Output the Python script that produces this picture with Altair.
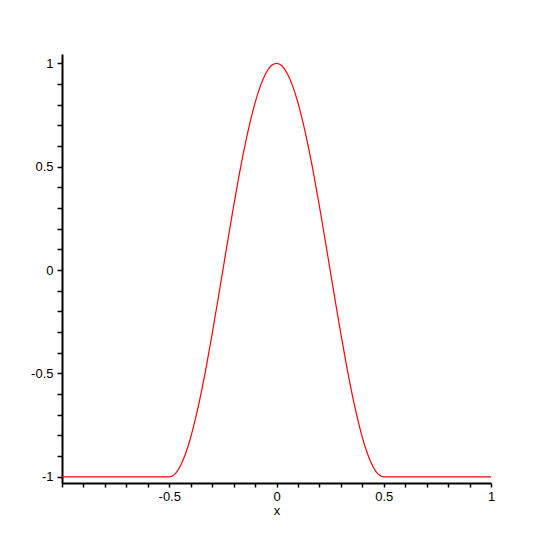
import altair as alt
import pandas as pd

# Curve values
x_vals = [-1.0, -0.5, -0.475, -0.45, -0.425, -0.4, -0.375, -0.35, -0.325, -0.3, -0.275,
          -0.25, -0.225, -0.2, -0.175, -0.15, -0.125, -0.1, -0.075, -0.05, -0.025,
          0.0, 0.025, 0.05, 0.075, 0.1, 0.125, 0.15, 0.175, 0.2, 0.225, 0.25,
          0.275, 0.3, 0.325, 0.35, 0.375, 0.4, 0.425, 0.45, 0.475, 0.5, 1.0]
y_vals = [-1.0, -1.0, -0.988, -0.951, -0.891, -0.809, -0.707, -0.588, -0.454, -0.309, -0.156,
          0.0, 0.156, 0.309, 0.454, 0.588, 0.707, 0.809, 0.891, 0.951, 0.988,
          1.0, 0.988, 0.951, 0.891, 0.809, 0.707, 0.588, 0.454, 0.309, 0.156, 0.0,
          -0.156, -0.309, -0.454, -0.588, -0.707, -0.809, -0.891, -0.951, -0.988, -1.0, -1.0]

tick_values = [-1.0, -0.9, -0.8, -0.7, -0.6, -0.5, -0.4, -0.3, -0.2, -0.1, 0.0,
               0.1, 0.2, 0.3, 0.4, 0.5, 0.6, 0.7, 0.8, 0.9, 1.0]
x_labels = [-0.5, 0, 0.5, 1]
y_labels = [-1, -0.5, 0, 0.5, 1]

df = pd.DataFrame({"x": x_vals, "y": y_vals})

font = "Liberation Sans"


def label_expr(labels):
    return ("indexof(" + str(labels) + ", round(datum.value*10)/10) >= 0 ? "
            "toString(round(datum.value*10)/10) : ''")


chart = alt.Chart(df).mark_line(color="#ff0000", strokeWidth=1.2, interpolate="monotone").encode(
    x=alt.X("x:Q",
            scale=alt.Scale(domain=[-1, 1], nice=False, zero=False),
            axis=alt.Axis(values=tick_values, labelExpr=label_expr(x_labels), title="x",
                          grid=False, domainColor="black", domainWidth=2,
                          tickColor="black", tickWidth=1.5, tickSize=4,
                          labelFont=font, labelFontSize=13, labelColor="black",
                          labelPadding=3, labelFlush=False,
                          titleFont=font, titleFontSize=13, titleFontWeight="normal",
                          titleColor="black", titlePadding=1)),
    y=alt.Y("y:Q",
            scale=alt.Scale(domain=[-1.03, 1.045], nice=False, zero=False),
            axis=alt.Axis(values=tick_values, labelExpr=label_expr(y_labels), title=None,
                          grid=False, domainColor="black", domainWidth=2,
                          tickColor="black", tickWidth=1.5, tickSize=5,
                          labelFont=font, labelFontSize=13, labelColor="black",
                          labelPadding=4, labelFlush=False)),
).properties(
    width=429,
    height=429,
    autosize=alt.AutoSizeParams(type="none"),
    padding={"left": 54, "top": 46, "right": 46, "bottom": 42},
    background="white",
).configure_view(stroke=None)

chart.save("out.html", embed_options={"renderer": "svg", "actions": False})
